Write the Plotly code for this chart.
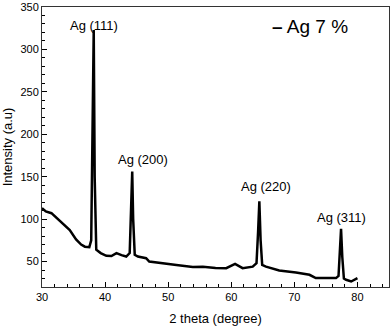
import plotly.graph_objects as go

# XRD pattern (2 theta in degrees, intensity in a.u.)
two_theta = [30.0, 30.6, 31.5, 32.4, 33.3, 34.4, 35.4, 36.2, 36.8, 37.5, 37.8, 38.0, 38.2, 38.35, 38.6,
             39.3, 40.2, 41.0, 41.8, 42.6, 43.35, 43.9, 44.15, 44.3, 44.45, 44.7, 45.2, 46.5, 47.0,
             48.6, 49.1, 51.3, 53.9, 55.5, 57.5, 59.2, 60.6, 61.8, 63.4, 64.0, 64.25, 64.45, 64.65,
             64.9, 65.5, 67.6, 70.25, 72.4, 73.4, 75.0, 76.6, 77.0, 77.25, 77.4, 77.6, 77.85, 78.2,
             79.0, 80.0]
intensity = [113, 109, 107, 101, 95, 87, 76, 70, 67.5, 67, 75, 200, 323, 150, 64,
             60, 56.7, 56.5, 59.9, 57.5, 55.9, 60, 110, 156, 100, 58, 55.9, 54, 50,
             48.8, 48.1, 46, 43.5, 44, 42.5, 42.2, 47.3, 42.2, 44, 48, 85, 121, 75,
             46, 44, 39.4, 37, 34.4, 30.5, 30.5, 30.5, 33, 60, 88.5, 55, 30, 28.5,
             26.5, 30.5]

peak_labels = ["Ag (111)", "Ag (200)", "Ag (220)", "Ag (311)"]
peak_label_x = [38.2, 46.0, 65.5, 77.4]
peak_label_y = [328, 170, 138, 102]

fig = go.Figure()
fig.add_trace(go.Scatter(x=two_theta, y=intensity, mode='lines', name='Ag 7 %',
                         line=dict(color='black', width=2.5), showlegend=False))

for txt, px, py in zip(peak_labels, peak_label_x, peak_label_y):
    fig.add_annotation(x=px, y=py, text=txt, showarrow=False,
                       font=dict(size=13, color='black'))

# legend-like label
fig.add_annotation(xref='paper', yref='paper', x=0.772, y=0.929, xanchor='center', yanchor='middle',
                   text="<b>–</b> Ag 7 %", showarrow=False, font=dict(size=19, color='black'))

axis_style = dict(showline=True, linecolor='#333', linewidth=1, mirror=True, showgrid=False,
                  zeroline=False, ticks='inside', ticklen=5, tickcolor='black',
                  tickfont=dict(size=11, color='black'), automargin=False)

fig.update_xaxes(range=[30, 85], tickvals=[30, 40, 50, 60, 70, 80],
                 minor=dict(ticks='inside', ticklen=3, dtick=2, tickcolor='black'),
                 title=dict(text="2 theta (degree)", font=dict(size=13, color='black'), standoff=11),
                 **axis_style)
fig.update_yaxes(range=[20, 350], tickvals=[50, 100, 150, 200, 250, 300, 350],
                 minor=dict(ticks='inside', ticklen=3, dtick=10, tick0=0, tickcolor='black'),
                 title=dict(text="Intensity (a.u)", font=dict(size=13, color='black'), standoff=4),
                 **axis_style)

fig.update_layout(
    width=392, height=327,
    margin=dict(l=42, r=3, t=7, b=40),
    plot_bgcolor='white', paper_bgcolor='white',
    font=dict(family="Arial, Liberation Sans, sans-serif", color='black'),
)

# drop the browser's default body margin so the figure sits at the page corner
fig.write_html("out.html", config={'displayModeBar': False},
               post_script="document.body.style.margin='0';")
